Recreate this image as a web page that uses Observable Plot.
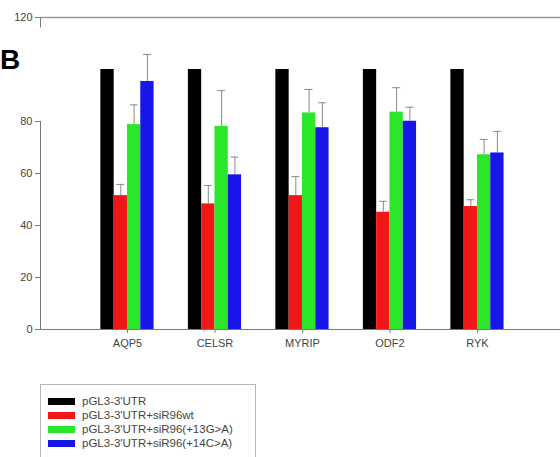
<!DOCTYPE html>
<html>
<head>
<meta charset="utf-8">
<script src="https://cdn.jsdelivr.net/npm/d3@7"></script>
<script src="https://cdn.jsdelivr.net/npm/@observablehq/plot@0.6"></script>
<style>
  html, body { margin: 0; padding: 0; background: #fff; }
  body { width: 560px; height: 457px; overflow: hidden; position: relative; font-family: "Liberation Sans", Arial, sans-serif; }
  #panel { position: absolute; left: 0px; top: 44px; font: bold 28px "Liberation Sans", Arial, sans-serif; color: #000; }
  #legend { position: absolute; left: 40px; top: 384px; width: 216px; height: 90px; border: 1px solid #b5b5b5; box-sizing: border-box; padding-top: 9px; }
  .row { display: flex; align-items: center; height: 14px; padding-left: 7px; }
  .sw { width: 27px; height: 7px; margin-right: 7px; }
  .lb { font-size: 11.5px; color: #444; white-space: nowrap; }
  #chart { position: absolute; left: 0; top: 0; }
</style>
</head>
<body>
<div id="chart"></div>
<div id="panel">B</div>
<div id="legend"></div>
<script>
const groups = ["AQP5", "CELSR", "MYRIP", "ODF2", "RYK"];
const seriesNames = ["pGL3-3'UTR", "pGL3-3'UTR+siR96wt", "pGL3-3'UTR+siR96(+13G>A)", "pGL3-3'UTR+siR96(+14C>A)"];
const seriesColors = ["#000000", "#f21616", "#2ce62c", "#1616e8"];
const ctrlValues = [100, 100, 100, 100, 100];
const wtValues = [51.5, 48.3, 51.5, 45.1, 47.3];
const wtErr = [4.3, 7.1, 7.3, 4.2, 2.6];
const g13Values = [78.8, 78.1, 83.3, 83.6, 67.2];
const g13Err = [7.6, 13.8, 9.0, 9.4, 5.9];
const c14Values = [95.4, 59.5, 77.6, 80.1, 67.9];
const c14Err = [10.4, 6.8, 9.6, 5.4, 8.3];
const yTicks = [0, 20, 40, 60, 80, 120];

const valuesBySeries = [ctrlValues, wtValues, g13Values, c14Values];
const errBySeries = [null, wtErr, g13Err, c14Err];

const barW = 0.152;
const data = [];
groups.forEach((g, gi) => {
  valuesBySeries.forEach((vals, si) => {
    const x1 = gi - 2 * barW + si * barW;
    const err = errBySeries[si] ? errBySeries[si][gi] : null;
    data.push({group: g, series: seriesNames[si], x1, x2: x1 + barW, xc: x1 + barW / 2, value: vals[gi], err});
  });
});
const errData = data.filter(d => d.err != null);
const X0 = -0.994, X1 = 4.949;
const axisColor = "#7a7a7a";

const chart = Plot.plot({
  width: 560,
  height: 354,
  marginLeft: 40,
  marginRight: 0,
  marginTop: 17,
  marginBottom: 25,
  style: {fontFamily: "'Liberation Sans', Arial, sans-serif", fontSize: "11px", color: "#444", background: "#fff"},
  x: {domain: [X0, X1]},
  y: {domain: [0, 120]},
  color: {domain: seriesNames, range: seriesColors},
  marks: [
    Plot.rectY(data, {x1: "x1", x2: "x2", y1: 0, y2: "value", fill: "series"}),
    Plot.ruleX(errData, {x: "xc", y1: "value", y2: d => d.value + d.err, stroke: "#8a8a8a", strokeWidth: 1}),
    Plot.ruleY(errData, {y: d => d.value + d.err, x1: d => d.xc - 0.045, x2: d => d.xc + 0.045, stroke: "#8a8a8a", strokeWidth: 1}),
    Plot.ruleY([0], {stroke: axisColor, strokeWidth: 1}),
    Plot.ruleY([120], {stroke: "#999", strokeWidth: 1.5}),
    Plot.ruleX([{y1: 0, y2: 80}, {y1: 116, y2: 120}], {x: () => X0, y1: "y1", y2: "y2", stroke: axisColor, strokeWidth: 1}),
    Plot.axisY({ticks: yTicks, tickSize: 5, tickPadding: 3, stroke: axisColor, color: "#444", label: null}),
    Plot.axisX({ticks: [0, 1, 2, 3, 4], tickFormat: i => groups[i], tickSize: 4, tickPadding: 6, stroke: axisColor, color: "#444", label: null})
  ]
});
document.getElementById("chart").appendChild(chart);

const legend = document.getElementById("legend");
seriesNames.forEach((name, i) => {
  const row = document.createElement("div");
  row.className = "row";
  const sw = document.createElement("div");
  sw.className = "sw";
  sw.style.background = seriesColors[i];
  const lb = document.createElement("span");
  lb.className = "lb";
  lb.textContent = name;
  row.appendChild(sw);
  row.appendChild(lb);
  legend.appendChild(row);
});
</script>
</body>
</html>
